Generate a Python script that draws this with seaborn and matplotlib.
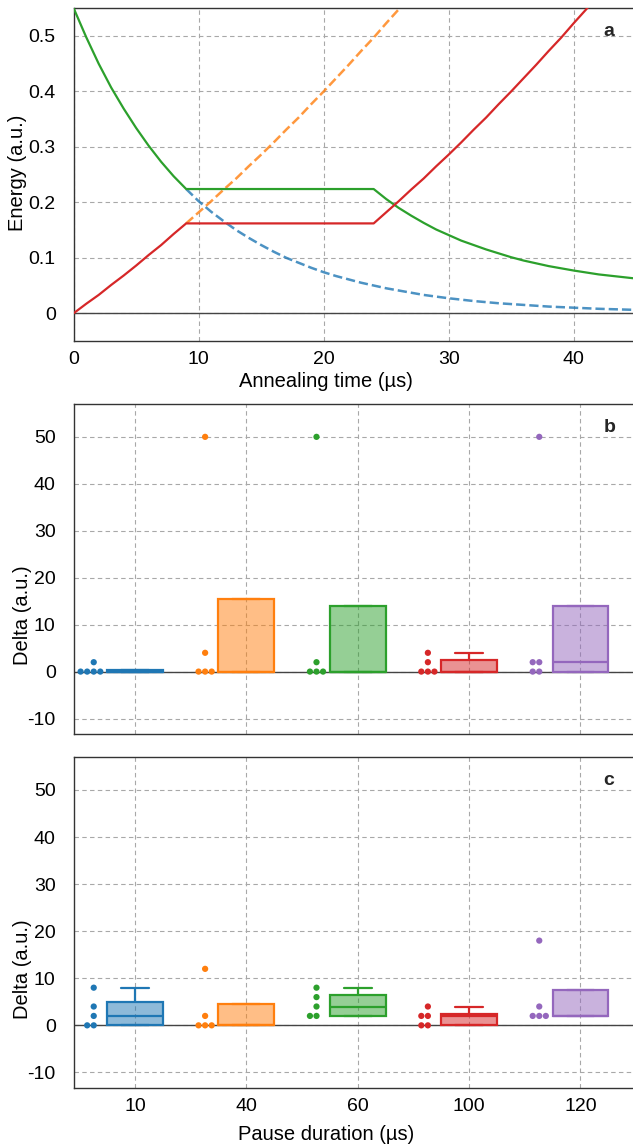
import numpy as np
import pandas as pd
import matplotlib
matplotlib.use("Agg")
import matplotlib.pyplot as plt
import matplotlib.ticker as mtick
import matplotlib.transforms as mtrans
import seaborn as sns

# panel a: energy levels vs annealing time (a.u.)
t_red = [0, 1, 2, 3, 4, 5, 6, 7, 8, 9,
         24, 25, 26, 27, 28, 29, 30, 31, 32, 33, 34, 35, 36, 37, 38, 39, 40, 41, 42]
e_red = [0.0, 0.017, 0.033, 0.051, 0.068, 0.086, 0.105, 0.123, 0.143, 0.162,
         0.162, 0.182, 0.202, 0.223, 0.243, 0.265, 0.286, 0.308, 0.331, 0.353,
         0.377, 0.400, 0.424, 0.448, 0.473, 0.497, 0.523, 0.548, 0.574]

t_green = [0, 1, 2, 3, 4, 5, 6, 7, 8, 9,
           24, 25, 26, 27, 28, 29, 30, 31, 32, 33, 34, 35, 36, 37, 38, 39, 40,
           41, 42, 43, 44, 45]
e_green = [0.550, 0.498, 0.450, 0.407, 0.369, 0.334, 0.302, 0.273, 0.247, 0.224,
           0.224, 0.206, 0.190, 0.176, 0.163, 0.151, 0.141, 0.131, 0.123, 0.115,
           0.108, 0.101, 0.095, 0.090, 0.085, 0.081, 0.077, 0.0735, 0.070, 0.0675,
           0.065, 0.0625]

t_blue = [9, 10, 11, 12, 13, 14, 15, 16, 17, 18, 19, 20, 21, 22, 23, 24, 25,
          26, 27, 28, 29, 30, 32, 34, 36, 38, 40, 42, 45]
e_blue = [0.224, 0.202, 0.183, 0.166, 0.150, 0.136, 0.123, 0.111, 0.100, 0.091,
          0.082, 0.074, 0.067, 0.061, 0.055, 0.050, 0.045, 0.041, 0.037, 0.033,
          0.030, 0.027, 0.022, 0.018, 0.015, 0.012, 0.010, 0.008, 0.006]

t_orange = [9, 10, 11, 12, 13, 14, 15, 16, 17, 18, 19, 20, 21, 22, 23, 24, 25, 26, 27]
e_orange = [0.162, 0.182, 0.202, 0.223, 0.243, 0.265, 0.286, 0.308, 0.331, 0.353,
            0.377, 0.400, 0.424, 0.448, 0.473, 0.497, 0.523, 0.548, 0.574]

# panels b, c: pause duration groups
pause_labels = ["10", "40", "60", "100", "120"]
pause_colors = ["#1f77b4", "#ff7f0e", "#2ca02c", "#d62728", "#9467bd"]

# individual runs (Delta, a.u.)
b_points = [
    [2, 0, 0, 0, 0],
    [50, 4, 0, 0, 0],
    [50, 2, 0, 0, 0],
    [4, 2, 0, 0, 0],
    [50, 2, 2, 0, 0],
]
c_points = [
    [8, 4, 2, 0, 0],
    [12, 2, 0, 0, 0],
    [8, 6, 4, 2, 2],
    [4, 2, 2, 0, 0],
    [18, 4, 2, 2, 2],
]

# box summaries: whisker low, q1, median, q3, whisker high
b_boxes = [
    [0, 0, 0, 0.4, 0.4],
    [0, 0, 0, 15.4, 15.4],
    [0, 0, 0, 14, 14],
    [0, 0, 0, 2.5, 4],
    [0, 0, 2, 14, 14],
]
c_boxes = [
    [0, 0, 2, 5, 8],
    [0, 0, 0, 4.5, 4.5],
    [2, 2, 4, 6.5, 8],
    [0, 0, 2, 2.5, 4],
    [2, 2, 2, 7.5, 7.5],
]

# style
sns.set_theme(style="whitegrid")
plt.rcParams.update({
    "font.family": ["Liberation Sans", "DejaVu Sans"],
    "font.size": 14,
    "axes.edgecolor": "#333333",
    "axes.linewidth": 1.0,
    "axes.labelsize": 14.5,
    "xtick.labelsize": 14,
    "ytick.labelsize": 14,
    "xtick.major.size": 0,
    "ytick.major.size": 0,
    "xtick.major.pad": 7,
    "ytick.major.pad": 13,
    "axes.labelcolor": "black",
    "xtick.color": "black",
    "ytick.color": "black",
})

GRID_KW = dict(color="#a8a8a8", linestyle=(0, (4, 3)), linewidth=0.8)


def style_axes(ax, letter):
    ax.grid(True, which="major", axis="both", **GRID_KW)
    ax.set_axisbelow(True)
    for s in ax.spines.values():
        s.set_visible(True)
        s.set_color("#333333")
        s.set_linewidth(1.0)
    ax.axhline(0, color="#444444", linewidth=1.0, zorder=1.5)
    ax.text(0.952, 0.93, letter, transform=ax.transAxes, ha="center", va="center",
            fontsize=14, fontweight="bold")


def long_frame(groups):
    rows = []
    for label, vals in zip(pause_labels, groups):
        for v in vals:
            rows.append({"pause": label, "delta": v})
    return pd.DataFrame(rows)


def delta_panel(ax, boxes, points, letter, show_x):
    box_df = long_frame(boxes)
    pts_df = long_frame(points)

    # one call per group so every box gets its own edge colour
    for label, color in zip(pause_labels, pause_colors):
        n_before = len(ax.patches)
        sns.boxplot(
            data=box_df[box_df["pause"] == label], x="pause", y="delta",
            order=pause_labels, color=color, linecolor=color, saturation=1,
            width=0.5, whis=(0, 100), linewidth=1.6, fill=True,
            showfliers=False, ax=ax,
        )
        for p in ax.patches[n_before:]:
            p.set_facecolor(matplotlib.colors.to_rgba(color, 0.5))
            p.set_edgecolor(color)
            p.set_zorder(2)

    n_before = len(ax.collections)
    sns.swarmplot(
        data=pts_df, x="pause", y="delta", hue="pause",
        order=pause_labels, hue_order=pause_labels, palette=pause_colors,
        size=4.5, linewidth=0, legend=False, ax=ax,
    )
    # shift the swarms to the left of each box
    shift = mtrans.Affine2D().translate(-0.37, 0) + ax.transData
    for coll in ax.collections[n_before:]:
        coll.set_offset_transform(shift)
        coll.set_zorder(3)

    ax.set_xlim(-0.55, 4.5)
    ax.set_ylim(-13.3, 57)
    ax.yaxis.set_major_locator(mtick.MultipleLocator(10))
    ax.yaxis.set_major_formatter(mtick.FuncFormatter(lambda v, _: f"{v:g}"))
    ax.set_ylabel("Delta (a.u.)")
    ax.yaxis.set_label_coords(-0.074, 0.36)
    if show_x:
        ax.set_xlabel("Pause duration (µs)")
        ax.xaxis.set_label_coords(0.449, -0.112)
    else:
        ax.set_xlabel("")
        ax.set_xticklabels([])
    style_axes(ax, letter)


fig = plt.figure(figsize=(6.33, 11.48), dpi=100)
ax_a = fig.add_axes([0.1164, 0.7030, 0.8886, 0.2898])
ax_b = fig.add_axes([0.1164, 0.3606, 0.8886, 0.2875])
ax_c = fig.add_axes([0.1164, 0.0523, 0.8886, 0.2883])

# panel a
sns.lineplot(x=t_blue, y=e_blue, ax=ax_a, color="#1f77b4", alpha=0.8,
             linewidth=1.8, linestyle="--", zorder=2)
sns.lineplot(x=t_orange, y=e_orange, ax=ax_a, color="#ff7f0e", alpha=0.8,
             linewidth=1.8, linestyle="--", zorder=2)
sns.lineplot(x=t_green, y=e_green, ax=ax_a, color="#2ca02c", linewidth=1.6, zorder=3)
sns.lineplot(x=t_red, y=e_red, ax=ax_a, color="#d62728", linewidth=1.6, zorder=3)
ax_a.set_xlim(0, 45)
ax_a.set_ylim(-0.05, 0.55)
ax_a.xaxis.set_major_locator(mtick.MultipleLocator(10))
ax_a.yaxis.set_major_locator(mtick.MultipleLocator(0.1))
ax_a.yaxis.set_major_formatter(mtick.FuncFormatter(lambda v, _: f"{v:g}"))
ax_a.set_xlabel("Annealing time (µs)")
ax_a.xaxis.set_label_coords(0.449, -0.094)
ax_a.set_ylabel("Energy (a.u.)")
ax_a.yaxis.set_label_coords(-0.083, 0.505)
style_axes(ax_a, "a")

delta_panel(ax_b, b_boxes, b_points, "b", show_x=False)
delta_panel(ax_c, c_boxes, c_points, "c", show_x=True)

fig.savefig("out.png", dpi=100)
